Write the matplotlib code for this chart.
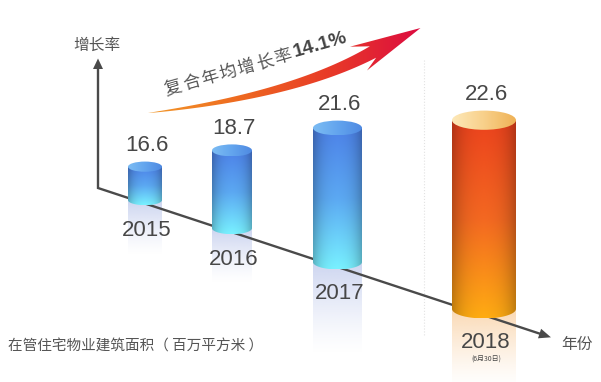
import numpy as np
import matplotlib
matplotlib.use('Agg')
import matplotlib.pyplot as plt
from matplotlib.patches import Ellipse, Polygon, PathPatch
from matplotlib.path import Path
from matplotlib.colors import LinearSegmentedColormap, to_rgb

# ---------------- data ----------------
years = ['2015', '2016', '2017', '2018']
values = [16.6, 18.7, 21.6, 22.6]
year_notes = ['', '', '', '(6月30日)']
cagr_label = '复合年均增长率'
cagr_value = '14.1%'
y_title = '增长率'
x_title = '年份'
caption = '在管住宅物业建筑面积（ 百万平方米 ）'

# ---------------- layout ----------------
W, H = 601, 382
centers = [145, 232, 337.5, 484]
widths = [34, 40, 49, 64]
refl_len = [55, 55, 92, 80]
highlight = [False, False, False, True]

CJK = ['Noto Sans CJK SC', 'DejaVu Sans']
LAT = ['Liberation Sans', 'DejaVu Sans']
TXT = '#474747'

fig = plt.figure(figsize=(W / 100, H / 100), dpi=100)
ax = fig.add_axes([0, 0, 1, 1])
# value scale (pixel row = 141.3 - 7.745 * (v - 19.875))
PX_PER_V, V_REF, PX_REF = 7.745, 19.875, 141.3
VMAX = V_REF + PX_REF / PX_PER_V
VMIN = V_REF - (H - PX_REF) / PX_PER_V


def pv(py):
    return VMAX - py / H * (VMAX - VMIN)


def hv(h):
    return h / H * (VMAX - VMIN)


def vp(v):
    return (VMAX - v) / (VMAX - VMIN) * H


# axis geometry (pixels)
ORIGIN = (98, 188)
XEND = (550, 337)
YEND = (98, 59)


def base(x):
    return ORIGIN[1] + (XEND[1] - ORIGIN[1]) / (XEND[0] - ORIGIN[0]) * (x - ORIGIN[0])


def P(x, y):
    return (x, pv(y))


axis_col = '#4a4a4a'
# faint dotted separator
ax.plot([424, 424], [pv(60), pv(335)], color='#e2e2e2', lw=0.8, ls=':', zorder=0)
# axes lines
ax.plot([YEND[0], ORIGIN[0], XEND[0] - 8], [pv(YEND[1] + 8), pv(ORIGIN[1]), pv(XEND[1] - 2.6)],
        color=axis_col, lw=1.7, zorder=2, solid_joinstyle='miter')
ax.add_patch(Polygon([P(98, 58.5), P(93, 69), P(103, 69)], closed=True, color=axis_col, zorder=2, lw=0))
d = np.array([XEND[0] - ORIGIN[0], XEND[1] - ORIGIN[1]], float)
d /= np.hypot(*d)
n = np.array([-d[1], d[0]])
tip = np.array(XEND, float) + d * 1
b0 = tip - d * 12
ax.add_patch(Polygon([P(*tip), P(*(b0 + n * 5)), P(*(b0 - n * 5))], closed=True,
                     color=axis_col, zorder=2, lw=0))

blue_body = LinearSegmentedColormap.from_list('bb', ['#4a7ddf', '#58a2e9', '#74e8f6'])
org_body = LinearSegmentedColormap.from_list('ob', ['#e3401c', '#ea6420', '#f5a512'])
blue_top = LinearSegmentedColormap.from_list('bt', ['#7cbcf3', '#63a5ee', '#4f8ae2'])
org_top = LinearSegmentedColormap.from_list('ot', ['#fde8b8', '#f8d08a', '#efb256'])

for i, (v, yr) in enumerate(zip(values, years)):
    cx, w = centers[i], widths[i]
    eh = 0.3 * w
    bot_px = base(cx) - 0.1 * w
    vb, vt = pv(bot_px), v
    ehv = hv(eh)
    x0, x1 = cx - w / 2, cx + w / 2
    hl = highlight[i]

    # reflection
    L = refl_len[i]
    rc = to_rgb('#fad6ae' if hl else '#c9d2ef')
    a = np.linspace(0.95, 0.0, 100) ** 1.3
    rimg = np.zeros((100, 2, 4))
    rimg[..., :3] = rc
    rimg[..., 3] = a[:, None]
    ax.imshow(rimg, extent=(x0, x1, pv(bot_px + L), vb), origin='upper', aspect='auto',
              interpolation='bilinear', zorder=1)

    # body
    t = np.linspace(0, 1, 200)
    s = np.linspace(-1, 1, 120)
    cmap = org_body if hl else blue_body
    img = cmap(t)[:, None, :3] * np.ones((1, 120, 1))
    shade = 1 - 0.22 * np.abs(s) ** 3 + 0.04 * (1 - np.abs(s))
    img = np.clip(img * shade[None, :, None], 0, 1)
    th = np.linspace(0, np.pi, 60)
    verts = [(x0, vt), (x0, vb)]
    verts += [(cx - w / 2 * np.cos(a_), vb - ehv / 2 * np.sin(a_)) for a_ in th]
    verts += [(x1, vb), (x1, vt), (x0, vt)]
    body_patch = PathPatch(Path(verts), facecolor='none', edgecolor='none', zorder=3)
    ax.add_patch(body_patch)
    im = ax.imshow(img, extent=(x0, x1, vb - ehv / 2, vt), origin='upper', aspect='auto',
                   interpolation='bilinear', zorder=3)
    im.set_clip_path(body_patch)

    # top ellipse
    tcmap = org_top if hl else blue_top
    timg = tcmap(np.linspace(0, 1, 120))[None, :, :3] * np.ones((20, 1, 1))
    top_patch = Ellipse((cx, vt), w, ehv, facecolor='none', edgecolor='none', zorder=4)
    ax.add_patch(top_patch)
    im2 = ax.imshow(timg, extent=(x0, x1, vt - ehv / 2, vt + ehv / 2), origin='upper',
                    aspect='auto', interpolation='bilinear', zorder=4)
    im2.set_clip_path(top_patch)

    # value label
    ax.text(cx + 2, pv(vp(vt) - eh / 2 - 16), f'{v:.1f}', ha='center', va='center',
            fontsize=16, color=TXT, family=LAT, zorder=6)
    # year label
    ax.text(cx + 2, pv(base(cx) + 27), yr, ha='center', va='center',
            fontsize=16, color=TXT, family=LAT, zorder=6)
    if year_notes[i]:
        ax.text(cx + 2, pv(base(cx) + 43), year_notes[i], ha='center', va='center',
                fontsize=5, color=TXT, family=CJK, zorder=6)

# ---------------- growth arrow ----------------
P0, P1, P2 = np.array([148, 113.]), np.array([294, 95.5]), np.array([373, 52.])
tt = np.linspace(0, 1, 120)
C = ((1 - tt) ** 2)[:, None] * P0 + (2 * tt * (1 - tt))[:, None] * P1 + (tt ** 2)[:, None] * P2
D = (2 * (1 - tt))[:, None] * (P1 - P0) + (2 * tt)[:, None] * (P2 - P1)
D /= np.hypot(D[:, 0], D[:, 1])[:, None]
N = np.stack([-D[:, 1], D[:, 0]], axis=1)
thick = 13 * tt ** 0.8
top_e = C - N * (thick / 2)[:, None]
bot_e = C + N * (thick / 2)[:, None]
poly = list(top_e) + [np.array([350, 46.7]), np.array([420.5, 28]), np.array([367, 70.5])] + list(bot_e[::-1])
poly = [P(x, y) for x, y in poly]
arrow_patch = Polygon(poly, closed=True, facecolor='none', edgecolor='none', zorder=5)
ax.add_patch(arrow_patch)
acmap = LinearSegmentedColormap.from_list('ar', ['#f39a2a', '#ee6a20', '#e83a28', '#dc0c40'])
aimg = acmap(np.linspace(0, 1, 300))[None, :, :3] * np.ones((10, 1, 1))
im3 = ax.imshow(aimg, extent=(146, 422, pv(116), pv(26)), origin='upper', aspect='auto',
                interpolation='bilinear', zorder=5)
im3.set_clip_path(arrow_patch)

ang = 16.0
dr = np.array([np.cos(np.radians(ang)), -np.sin(np.radians(ang))])
c0 = np.array([173.3, 88.3])
for k, ch in enumerate(cagr_label):
    c = c0 + dr * 19 * k
    ax.text(c[0], pv(c[1]), ch, ha='center', va='center', rotation=ang, rotation_mode='anchor',
            fontsize=12.5, color='#555555', family=CJK, zorder=6)
c = c0 + dr * 19 * (len(cagr_label) - 1) + dr * 39 + np.array([0, -1.5])
ax.text(c[0], pv(c[1]), cagr_value, ha='center', va='center', rotation=ang, rotation_mode='anchor',
        fontsize=14, fontweight='bold', color='#444444', family=LAT, zorder=6)

# ---------------- titles ----------------
ax.text(97, pv(45), y_title, ha='center', va='center', fontsize=11.3, color='#555555', family=CJK)
ax.text(577.5, pv(344), x_title, ha='center', va='center', fontsize=11.3, color='#555555', family=CJK)
ax.text(8, pv(347), caption, ha='left', va='center', fontsize=10.5, color='#555555', family=CJK)

ax.set_xlim(0, W)
ax.set_ylim(VMIN, VMAX)
ax.axis('off')
fig.savefig('out.png', dpi=100, facecolor='white')
